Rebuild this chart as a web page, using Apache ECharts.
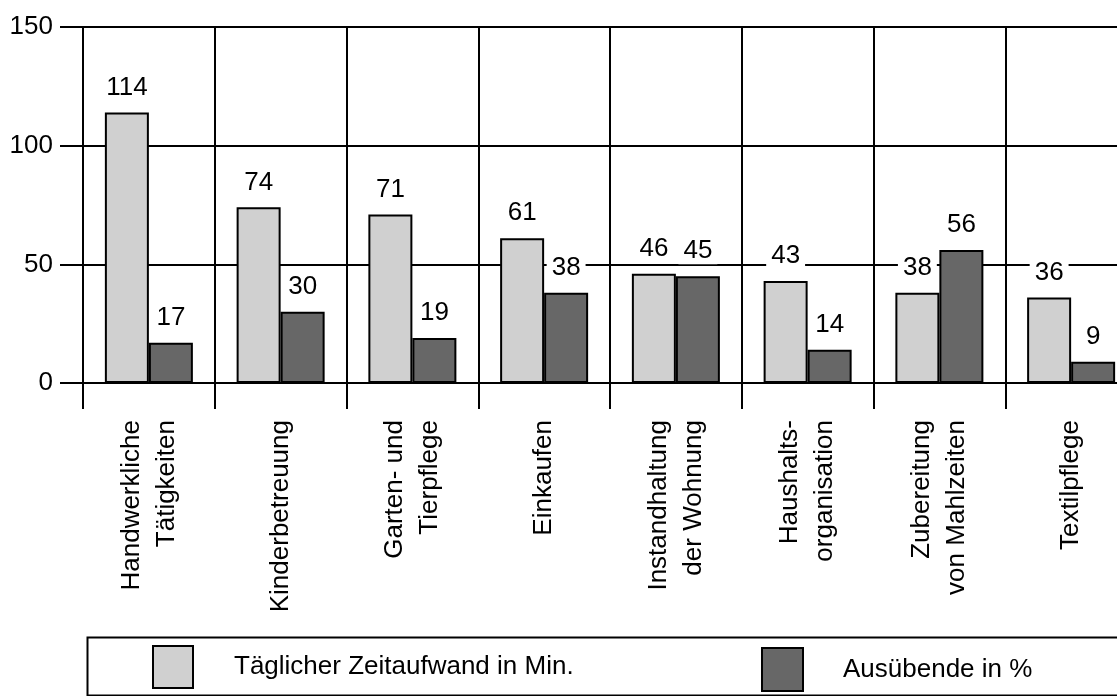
<!DOCTYPE html>
<html>
<head>
<meta charset="utf-8">
<script src="https://cdn.jsdelivr.net/npm/echarts@6/dist/echarts.min.js"></script>
<style>html,body{margin:0;padding:0;background:#fff;overflow:hidden}#c{width:1140px;height:696px}</style>
</head>
<body>
<div id="c"></div>
<script>
const categories = ['Handwerkliche\nTätigkeiten', 'Kinderbetreuung', 'Garten- und\nTierpflege', 'Einkaufen', 'Instandhaltung\nder Wohnung', 'Haushalts-\norganisation', 'Zubereitung\nvon Mahlzeiten', 'Textilpflege'];
const zeitaufwand = [114, 74, 71, 61, 46, 43, 38, 36];
const ausuebende = [17, 30, 19, 38, 45, 14, 56, 9];
const seriesNames = ['Täglicher Zeitaufwand in Min.', 'Ausübende in %'];
const yTicks = [0, 50, 100, 150];

const FONT = '"Liberation Sans", Arial, sans-serif';
const FS = 26;
const chart = echarts.init(document.getElementById('c'));
const labelStyle = {
  show: true, position: 'top', distance: 12, color: '#000', fontFamily: FONT, fontSize: FS,
  backgroundColor: '#fff', padding: [0, 5, 0, 5]
};
chart.setOption({
  animation: false,
  backgroundColor: '#fff',
  textStyle: { fontFamily: FONT },
  grid: { left: 83, top: 27, width: 1054, height: 356, containLabel: false },
  xAxis: {
    type: 'category', data: categories,
    axisLine: { show: true, lineStyle: { color: '#000', width: 2 } },
    axisTick: { show: true, interval: 0, length: 26, lineStyle: { color: '#000', width: 2 } },
    splitLine: { show: true, interval: 0, lineStyle: { color: '#000', width: 2 } },
    axisLabel: { interval: 0, rotate: 90, margin: 37, color: '#000', fontFamily: FONT, fontSize: FS, lineHeight: 35 }
  },
  yAxis: {
    type: 'value', min: yTicks[0], max: yTicks[yTicks.length - 1], interval: 50,
    axisLine: { show: true, lineStyle: { color: '#000', width: 2 } },
    axisTick: { show: true, length: 23, lineStyle: { color: '#000', width: 2 } },
    splitLine: { show: true, lineStyle: { color: '#000', width: 2 } },
    axisLabel: { margin: 30, color: '#000', fontFamily: FONT, fontSize: FS }
  },
  legend: [
    { data: [seriesNames[0]], left: 152, top: 645, itemWidth: 40, itemHeight: 42, padding: 0, icon: 'rect',
      textStyle: { color: '#000', fontFamily: FONT, fontSize: FS, padding: [0, 0, 0, 36] } },
    { data: [seriesNames[1]], left: 761, top: 647, itemWidth: 41, itemHeight: 43, padding: 0, icon: 'rect',
      textStyle: { color: '#000', fontFamily: FONT, fontSize: FS, padding: [0, 0, 0, 35] } }
  ],
  graphic: [{
    type: 'rect', left: 85, top: 635, shape: { width: 1100, height: 58 },
    style: { fill: 'none', stroke: '#000', lineWidth: 2 }, silent: true
  }],
  series: [
    { name: seriesNames[0], type: 'bar', data: zeitaufwand, barWidth: 44, barGap: '0%',
      itemStyle: { color: '#d0d0d0', borderColor: '#000', borderWidth: 2 }, label: labelStyle },
    { name: seriesNames[1], type: 'bar', data: ausuebende, barWidth: 44, barGap: '0%',
      itemStyle: { color: '#676767', borderColor: '#000', borderWidth: 2 }, label: labelStyle }
  ]
});
</script>
</body>
</html>
